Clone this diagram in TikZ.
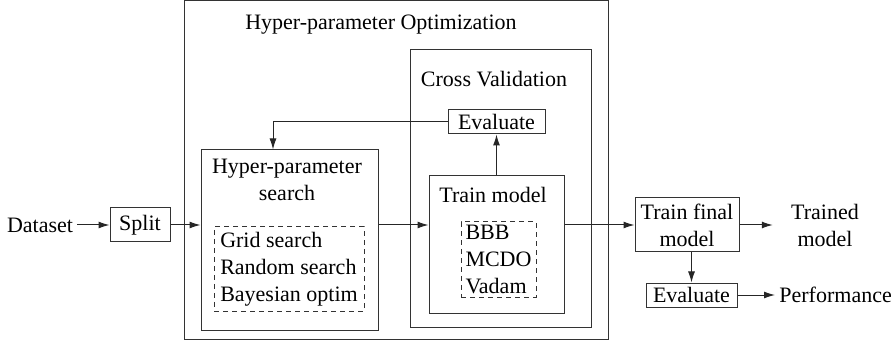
\documentclass[tikz,border=0pt]{standalone}
\usepackage{fontspec}
\setmainfont{Liberation Serif}
\usetikzlibrary{arrows.meta}
\begin{document}
\begin{tikzpicture}[x=0.5pt,y=-0.5pt,
  every node/.style={font=\fontsize{11}{13.5}\selectfont},
  box/.style={draw=black!80, line width=0.5pt, inner sep=0pt},
  dbox/.style={draw=black!80, line width=0.5pt, dashed, dash pattern=on 2.5pt off 2pt, inner sep=0pt, align=left},
  lbl/.style={inner sep=2pt, align=center},
  arr/.style={draw=black!85, line width=0.5pt, -{Latex[length=5.5pt,width=3.5pt]}},
  ln/.style={draw=black!85, line width=0.5pt}]
\useasboundingbox (0,0) rectangle (892,341);
% containers
\node[box, minimum width=212pt, minimum height=169pt] (outer) at (396,170) {};
\node[lbl] (outert) at (381,25) {Hyper-parameter Optimization};
\node[box, minimum width=90.5pt, minimum height=138.5pt] (cv) at (500.5,188.5) {};
\node[lbl] (cvt) at (494,79) {Cross Validation};
% cross validation content
\node[box, minimum width=48.5pt, minimum height=12pt] (ev1) at (496.5,122) {Evaluate};
\node[box, minimum width=67.5pt, minimum height=68.5pt] (tm) at (496.5,244.5) {};
\node[lbl] (tmt) at (493,195) {Train model};
\node[dbox, minimum width=37.5pt, minimum height=37.5pt] (tmd) at (498.5,259.5) {BBB\\MCDO\\Vadam};
% search
\node[box, minimum width=88.5pt, minimum height=90pt] (hps) at (289.5,240) {};
\node[lbl] (hpst) at (287,180) {Hyper-parameter\\search};
\node[dbox, minimum width=75pt, minimum height=42pt] (hpsd) at (289,269) {Grid search\\Random search\\Bayesian optim};
% left
\node[lbl] (data) at (40,225) {Dataset};
\node[box, minimum width=30pt, minimum height=17pt] (split) at (140,225) {Split};
% right
\node[box, minimum width=52pt, minimum height=27pt, align=center] (tfm) at (687,225) {Train final\\model};
\node[lbl] (trained) at (825,225) {Trained\\model};
\node[box, minimum width=45.5pt, minimum height=12pt] (ev2) at (691.5,295) {Evaluate};
\node[lbl, anchor=west] (perf) at (775,295) {Performance};
% connectors
\draw[arr] (data.east) -- (split.west);
\draw[arr] (split.east) -- (split.east -| hps.west);
\draw[arr] (hps.east |- split.east) -- (tm.west |- split.east);
\draw[arr] (tm.east |- tfm.west) -- (tfm.west);
\draw[arr] (tm.north -| ev1.south) -- (ev1.south);
\draw[arr] (ev1.west) -| ([xshift=-8.25pt]hps.north);
\draw[arr] (tfm.east) -- ([xshift=-7pt]trained.west);
\draw[arr] (tfm.south -| ev2.north) -- (ev2.north);
\draw[arr] (ev2.east) -- (perf.west);
\end{tikzpicture}
\end{document}
